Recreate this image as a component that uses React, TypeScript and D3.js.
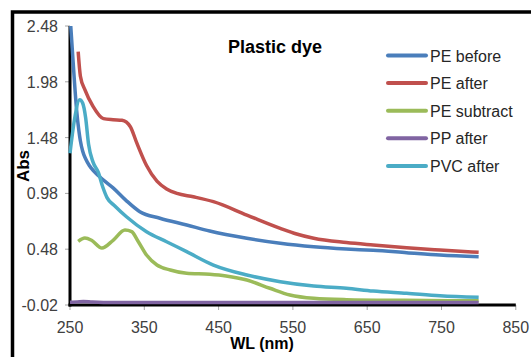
import React from 'react';
import * as d3 from 'd3';

// Absorbance spectra (wavelength nm, Abs)
const peBeforeWl = [251, 253, 256, 259, 262, 264, 267, 271, 276, 282, 295, 308, 325, 344, 371, 407, 438, 488, 533, 578, 622, 658, 703, 748, 800];
const peBeforeAbs = [2.48, 2.28, 1.98, 1.72, 1.54, 1.45, 1.36, 1.29, 1.23, 1.18, 1.1, 1.03, 0.92, 0.816, 0.757, 0.697, 0.643, 0.578, 0.533, 0.502, 0.482, 0.47, 0.449, 0.428, 0.413];

const peAfterWl = [261, 264, 270, 281, 295, 308, 320, 331, 340, 353, 367, 380, 394, 416, 443, 488, 533, 555, 578, 622, 658, 703, 748, 800];
const peAfterAbs = [2.25, 2.03, 1.91, 1.76, 1.65, 1.64, 1.635, 1.58, 1.43, 1.23, 1.09, 1.02, 0.98, 0.95, 0.906, 0.786, 0.667, 0.616, 0.578, 0.54, 0.518, 0.493, 0.473, 0.452];

const peSubWl = [261, 270, 279, 293, 308, 324, 333, 342, 353, 367, 385, 407, 438, 460, 488, 519, 546, 578, 622, 700, 800];
const peSubAbs = [0.55, 0.58, 0.56, 0.49, 0.56, 0.652, 0.637, 0.547, 0.428, 0.338, 0.294, 0.264, 0.255, 0.24, 0.204, 0.13, 0.07, 0.04, 0.028, 0.022, 0.018];

const ppAfterWl = [250, 260, 268, 280, 295, 350, 450, 550, 650, 800];
const ppAfterAbs = [0.004, 0.008, 0.012, 0.006, 0.003, 0.003, 0.003, 0.003, 0.003, 0.003];

const pvcAfterWl = [250, 256, 263, 267, 271, 275, 281, 288, 294, 300, 310, 326, 353, 380, 407, 443, 488, 533, 578, 622, 658, 703, 748, 800];
const pvcAfterAbs = [1.34, 1.64, 1.82, 1.79, 1.66, 1.42, 1.26, 1.17, 1.04, 0.94, 0.87, 0.771, 0.637, 0.547, 0.458, 0.338, 0.249, 0.189, 0.15, 0.13, 0.105, 0.085, 0.063, 0.049];

const seriesNames = ['PE before', 'PE after', 'PE subtract', 'PP after', 'PVC after'];
const seriesColors = ['#4a7ebb', '#c0504d', '#9bbb59', '#8064a2', '#4bacc6'];
const seriesWl = [peBeforeWl, peAfterWl, peSubWl, ppAfterWl, pvcAfterWl];
const seriesAbs = [peBeforeAbs, peAfterAbs, peSubAbs, ppAfterAbs, pvcAfterAbs];

const xTicks = [250, 350, 450, 550, 650, 750, 850];
const yTicks = [-0.02, 0.48, 0.98, 1.48, 1.98, 2.48];

const W = 531;
const H = 357;
const font = '"Liberation Sans", Arial, sans-serif';

export default function App() {
  const x = d3.scaleLinear().domain([250, 850]).range([70, 515.8]);
  const y = d3.scaleLinear().domain([-0.02, 2.48]).range([305, 26]);

  const line = d3
    .line<[number, number]>()
    .x((d) => x(d[0]))
    .y((d) => y(d[1]))
    .curve(d3.curveMonotoneX);

  return (
    <svg width={W} height={H} style={{ position: 'absolute', left: 0, top: 0, background: '#fff' }}>
      {/* outer frame */}
      <rect x={12.5} y={12} width={560} height={400} fill="none" stroke="#000" strokeWidth={3.5} />

      {/* tick marks */}
      {yTicks.map((t) => (
        <line key={'yt' + t} x1={65} x2={70} y1={y(t)} y2={y(t)} stroke="#a6a6a6" strokeWidth={1} />
      ))}
      {xTicks.map((t) => (
        <line key={'xt' + t} x1={x(t)} x2={x(t)} y1={305} y2={310} stroke="#a6a6a6" strokeWidth={1} />
      ))}

      {/* axes */}
      <line x1={70} x2={70} y1={y(2.48)} y2={306.5} stroke="#000" strokeWidth={3} />
      <line x1={68.5} x2={x(850)} y1={305} y2={305} stroke="#000" strokeWidth={3} />

      {/* tick labels */}
      {yTicks.map((t) => (
        <text key={'yl' + t} x={58} y={y(t) + 6} textAnchor="end" fontFamily={font} fontSize={16} fill="#404040">
          {t.toFixed(2)}
        </text>
      ))}
      {xTicks.map((t) => (
        <text key={'xl' + t} x={x(t)} y={333} textAnchor="middle" fontFamily={font} fontSize={16} fill="#404040">
          {t}
        </text>
      ))}

      {/* series */}
      {seriesNames.map((name, i) => (
        <path
          key={name}
          d={line(seriesWl[i].map((w, j) => [w, seriesAbs[i][j]] as [number, number])) || ''}
          fill="none"
          stroke={seriesColors[i]}
          strokeWidth={3.5}
          strokeLinejoin="round"
        />
      ))}

      {/* axis titles */}
      <text x={262} y={349} textAnchor="middle" fontFamily={font} fontSize={16} fontWeight="bold" fill="#000">
        WL (nm)
      </text>
      <text transform="translate(29,166) rotate(-90)" textAnchor="middle" fontFamily={font} fontSize={17} fontWeight="bold" fill="#000">
        Abs
      </text>

      {/* chart title */}
      <text x={228} y={53} fontFamily={font} fontSize={18} fontWeight="bold" fill="#000">
        Plastic dye
      </text>

      {/* legend */}
      {seriesNames.map((name, i) => {
        const cy = 55.5 + i * 27.6;
        return (
          <g key={'lg' + name}>
            <line x1={388} x2={426} y1={cy} y2={cy} stroke={seriesColors[i]} strokeWidth={4} strokeLinecap="round" />
            <text x={430} y={cy + 6} fontFamily={font} fontSize={16} fill="#262626">
              {name}
            </text>
          </g>
        );
      })}
    </svg>
  );
}
